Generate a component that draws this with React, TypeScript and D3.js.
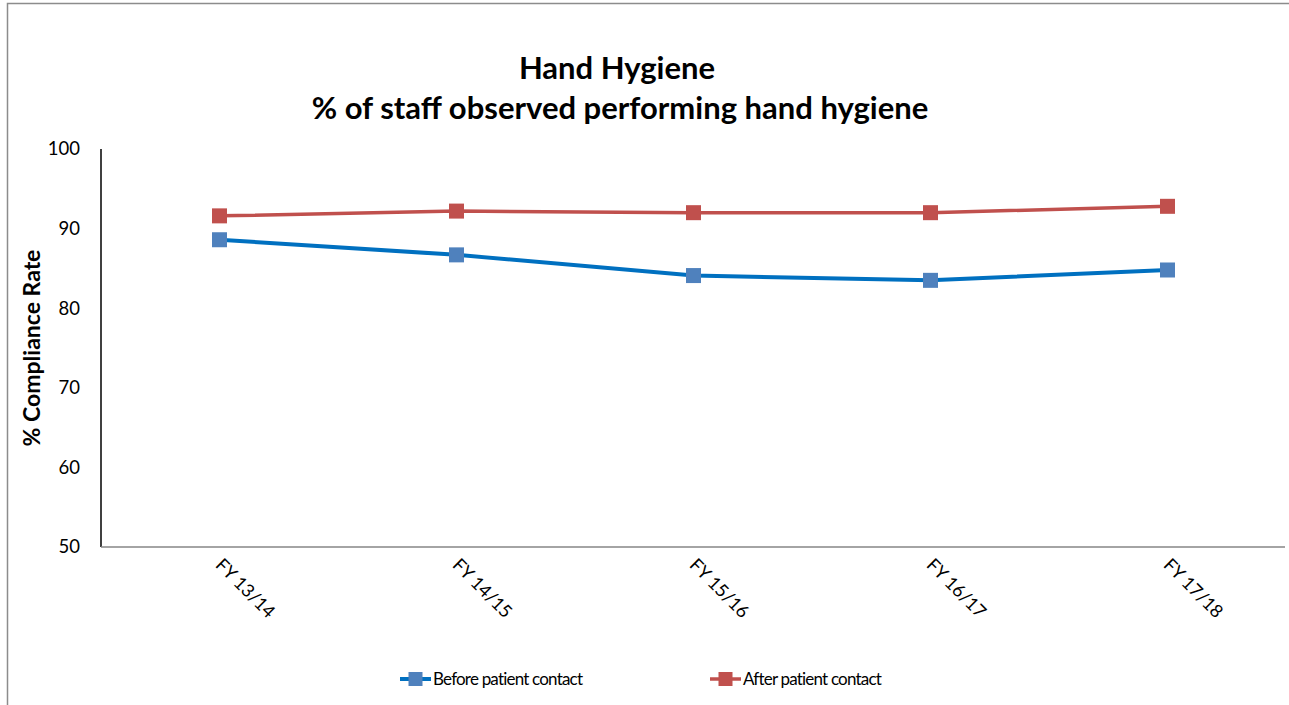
import React from "react";
import * as d3 from "d3";

const categories = ["FY 13/14", "FY 14/15", "FY 15/16", "FY 16/17", "FY 17/18"];
const beforeContact = [88.6, 86.7, 84.1, 83.5, 84.8];
const afterContact = [91.6, 92.2, 92.0, 92.0, 92.8];
const yTicks = [50, 60, 70, 80, 90, 100];
const seriesNames = ["Before patient contact", "After patient contact"];

const W = 1289;
const H = 705;
const FONT = "Lato, 'Open Sans', sans-serif";

export default function App() {
  const x = d3.scalePoint<string>().domain(categories).range([101, 1286]).padding(0.5);
  const y = d3.scaleLinear().domain([50, 100]).range([547, 149]);
  const line = d3
    .line<number>()
    .x((_, i) => x(categories[i]) as number)
    .y((d) => y(d));

  const series = [
    { name: seriesNames[0], values: beforeContact, line: "#0070C0", marker: "#4F81BD", lw: 4 },
    { name: seriesNames[1], values: afterContact, line: "#C0504D", marker: "#C0504D", lw: 3.5 },
  ];
  const ms = 15;
  const legendX = [400, 710];
  const legendY = 679;

  return (
    <svg
      width={W}
      height={H}
      style={{ position: "fixed", left: 0, top: 0, background: "#fff" }}
      fontFamily={FONT}
    >
      <rect x={7.5} y={3.5} width={W + 10} height={H + 10} fill="#fff" stroke="#8c8c8c" strokeWidth={1.5} />
      <text x={617} y={79} textAnchor="middle" fontSize={31} fontWeight="bold" fill="#000">
        Hand Hygiene
      </text>
      <text x={620} y={119} textAnchor="middle" fontSize={31} fontWeight="bold" fill="#000">
        % of staff observed performing hand hygiene
      </text>
      <text
        transform={`translate(40,${y(75)}) rotate(-90)`}
        textAnchor="middle"
        fontSize={23}
        fontWeight="bold"
        fill="#000"
      >
        % Compliance Rate
      </text>
      {yTicks.map((t) => (
        <text key={t} x={80} y={y(t)} dy="0.35em" textAnchor="end" fontSize={18.5} fill="#000">
          {t}
        </text>
      ))}
      <line x1={101} x2={101} y1={y(100)} y2={y(50)} stroke="#000" strokeWidth={1.5} />
      <line x1={101} x2={1285} y1={y(50)} y2={y(50)} stroke="#868686" strokeWidth={1.5} />
      {categories.map((c) => (
        <text
          key={c}
          transform={`translate(${(x(c) as number) - 5},${566}) rotate(45)`}
          fontSize={18}
          fill="#000"
        >
          {c}
        </text>
      ))}
      {series.map((s) => (
        <g key={s.name}>
          <path d={line(s.values) || ""} fill="none" stroke={s.line} strokeWidth={s.lw} />
          {s.values.map((v, i) => (
            <rect
              key={i}
              x={(x(categories[i]) as number) - ms / 2}
              y={y(v) - ms / 2}
              width={ms}
              height={ms}
              fill={s.marker}
            />
          ))}
        </g>
      ))}
      {series.map((s, i) => (
        <g key={"lg" + s.name}>
          <line x1={legendX[i]} x2={legendX[i] + 31} y1={legendY} y2={legendY} stroke={s.line} strokeWidth={s.lw} />
          <rect x={legendX[i] + 15.5 - 7} y={legendY - 7} width={14} height={14} fill={s.marker} />
          <text x={legendX[i] + 33} y={legendY} dy="0.35em" fontSize={17} letterSpacing={-0.8} fill="#000">
            {s.name}
          </text>
        </g>
      ))}
    </svg>
  );
}
